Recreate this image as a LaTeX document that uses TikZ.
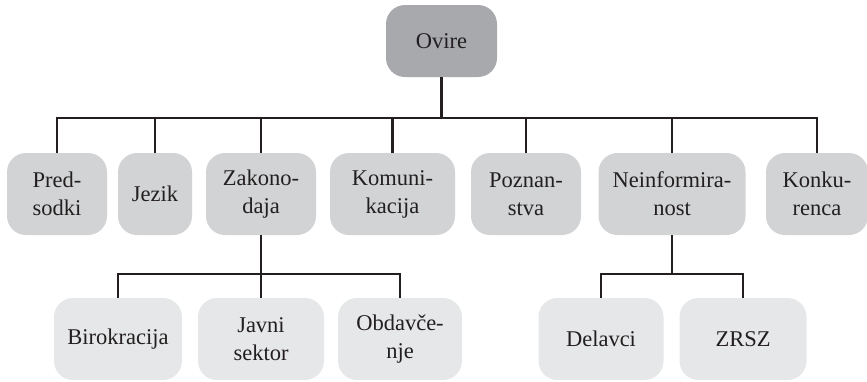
\documentclass[tikz,border=0pt]{standalone}
\usepackage{fontspec}
\setmainfont{Liberation Serif}
\definecolor{linec}{HTML}{231F20}
\definecolor{rootc}{HTML}{A7A9AC}
\definecolor{midc}{HTML}{D1D3D4}
\definecolor{lowc}{HTML}{E6E7E8}
\begin{document}
\begin{tikzpicture}[x=1pt,y=-1pt,
    every node/.style={anchor=center,align=center,inner sep=0pt,rounded corners=19pt,
      text=linec,font=\fontsize{22.5}{28}\selectfont},
    rootbox/.style={fill=rootc,minimum height=72pt},
    midbox/.style={fill=midc,minimum height=82pt},
    lowbox/.style={fill=lowc,minimum height=82pt},
    conn/.style={draw=linec,line width=2.8pt,line join=miter}]
    \useasboundingbox (0,0) rectangle (867,381);

        % Root
        \node[rootbox,minimum width=111pt] (r) at (441.5,41) {Ovire};

        % Level 1
        \node[midbox,minimum width=100pt] (a1) at (57,194) {Pred-\\sodki};
        \node[midbox,minimum width=74pt] (a2) at (155,194) {Jezik};
        \node[midbox,minimum width=110pt] (a3) at (261,194) {Zakono-\\daja};
        \node[midbox,minimum width=125pt] (a4) at (392.5,194) {Komuni-\\kacija};
        \node[midbox,minimum width=110pt] (a5) at (526,194) {Poznan-\\stva};
        \node[midbox,minimum width=147pt] (a6) at (672,194) {Neinformira-\\nost};
        \node[midbox,minimum width=102pt] (a7) at (817,194) {Konku-\\renca};

        % Level 2
        \node[lowbox,minimum width=128pt] (b1) at (118,339) {Birokracija};
        \node[lowbox,minimum width=126pt] (b2) at (261,339) {Javni\\sektor};
        \node[lowbox,minimum width=124pt] (b3) at (400,339) {Obdav\v{c}e-\\nje};
        \node[lowbox,minimum width=125pt] (b4) at (601,339) {Delavci};
        \node[lowbox,minimum width=127pt] (b5) at (743,339) {ZRSZ};

        % Joints
        \coordinate (j1) at (441.5,118);
        \coordinate (j2) at (261,274);
        \coordinate (j3) at (672,274);

        % Connectors
        \draw[conn] (r) -- (j1);
        \foreach \n in {a1,a2,a3,a4,a5,a6,a7}
            \draw[conn] (j1) -| (\n.north);
        \draw[conn] (a3) -- (j2);
        \foreach \n in {b1,b2,b3}
            \draw[conn] (j2) -| (\n.north);
        \draw[conn] (a6) -- (j3);
        \foreach \n in {b4,b5}
            \draw[conn] (j3) -| (\n.north);
    \end{tikzpicture}
\end{document}
